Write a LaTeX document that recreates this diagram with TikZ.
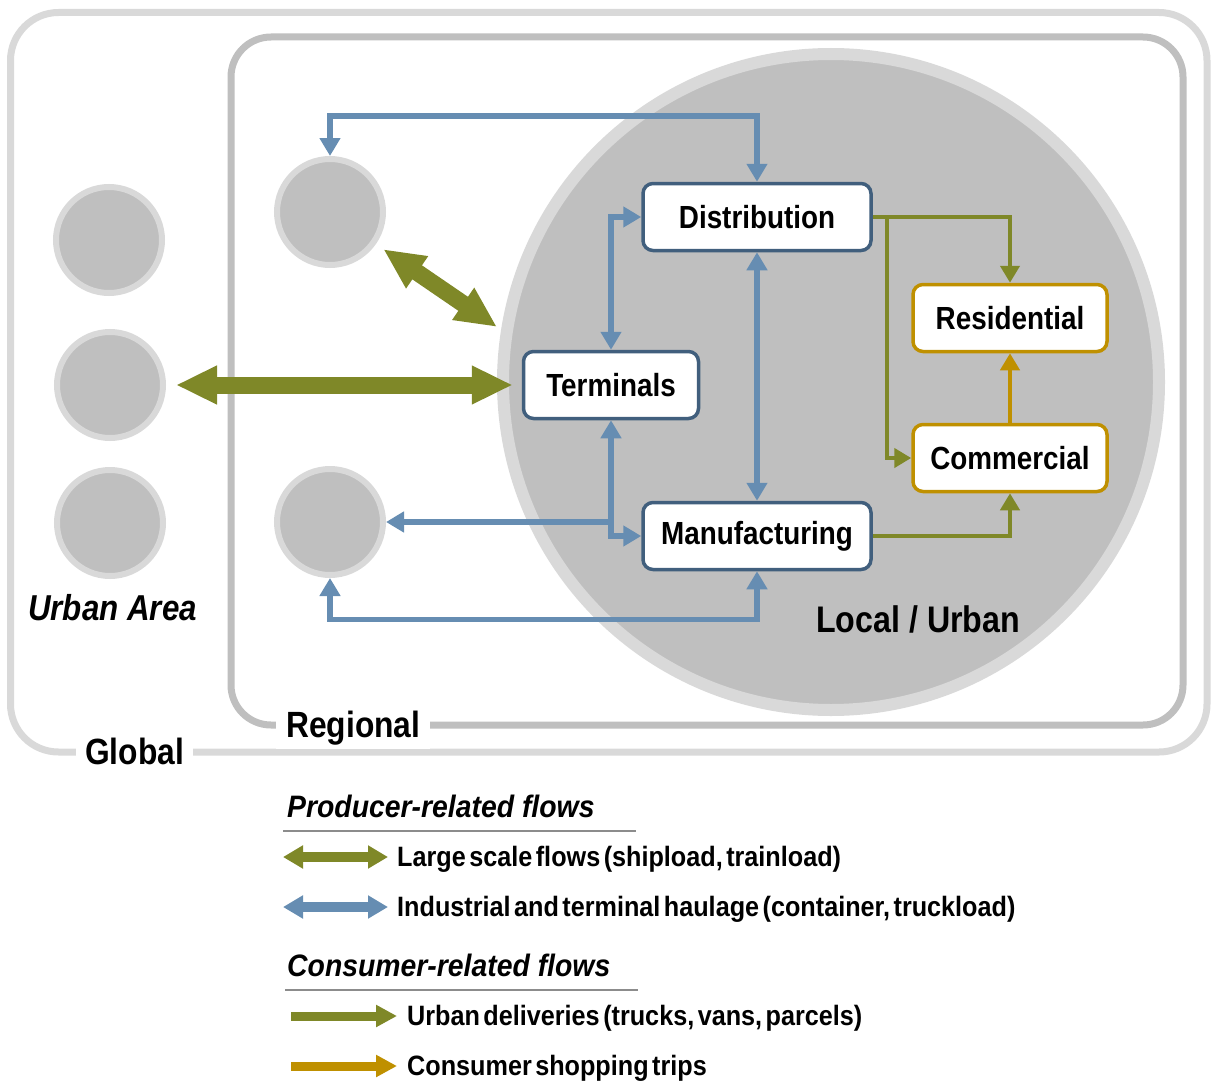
\documentclass[tikz,border=0pt]{standalone}
\usepackage{fontspec}
\setmainfont{Liberation Sans}[FakeStretch=0.87]
\newfontfamily\legfont{Liberation Sans}[FakeStretch=0.9]
\newfontfamily\headfont{Liberation Sans}[FakeStretch=0.915]
\newcommand{\legset}{\legfont\fontsize{28}{31}\selectfont\bfseries\spaceskip=3.5pt plus 1pt minus 1pt\relax}
\usetikzlibrary{arrows.meta}
\definecolor{olv}{RGB}{127,136,40}
\definecolor{blu}{RGB}{102,141,178}
\definecolor{nblue}{RGB}{65,95,125}
\definecolor{gld}{RGB}{191,144,0}
\definecolor{lgray}{RGB}{217,217,217}
\definecolor{mgray}{RGB}{191,191,191}
\definecolor{ulgray}{RGB}{140,140,140}
\tikzset{
  dot/.style={circle, draw=lgray, fill=mgray, line width=6pt, minimum size=106pt, inner sep=0pt},
  box/.style={draw=nblue, fill=white, line width=3.5pt, rounded corners=10pt, minimum width=228pt, minimum height=67pt, inner sep=0pt, font=\fontsize{32}{36}\selectfont\bfseries},
  gbox/.style={box, draw=gld, minimum width=194pt},
  bl/.style={draw=blu, line width=5.5pt, arrows={Triangle[length=18pt,width=20pt]-Triangle[length=18pt,width=20pt]}},
  blone/.style={draw=blu, line width=5.5pt, arrows={-Triangle[length=18pt,width=20pt]}},
  gr/.style={draw=olv, line width=4.5pt, arrows={-Triangle[length=17pt,width=19pt]}},
  go/.style={draw=gld, line width=4.5pt, arrows={-Triangle[length=17pt,width=19pt]}},
  thk/.style={draw=olv, line width=17pt, arrows={Triangle[length=41pt,width=36pt]-Triangle[length=41pt,width=36pt]}},
  scalelbl/.style={font=\fontsize{36.5}{40}\selectfont\bfseries, inner sep=0pt},
  leghead/.style={font=\headfont\fontsize{31}{34}\selectfont\bfseries\itshape, inner sep=0pt, anchor=base west},
  legtxt/.style={font=\legset, inner sep=0pt, anchor=base west},
  legdbl/.style={line width=10pt, arrows={Triangle[length=20pt,width=22pt]-Triangle[length=20pt,width=22pt]}},
  legone/.style={line width=9pt, arrows={-Triangle[length=21pt,width=21pt]}}
}
\begin{document}
\begin{tikzpicture}[x=1pt,y=-1pt]
\useasboundingbox (0,0) rectangle (1213,1081);
% scale frames
\draw[draw=lgray, line width=7pt, rounded corners=48pt] (10.5,12.5) rectangle (1207,752);
\draw[draw=mgray, line width=7pt, rounded corners=40pt] (231,37) rectangle (1183,725);
\node[scalelbl, fill=white, anchor=base west, inner xsep=9pt, inner ysep=4pt, xshift=-9pt] (glob) at (85,764) {Global};
\node[scalelbl, fill=white, anchor=base west, inner xsep=10pt, inner ysep=4pt, xshift=-10pt] (regl) at (286,737) {Regional};
% local circle
\node[circle, draw=lgray, fill=mgray, line width=12pt, minimum size=656pt, inner sep=0pt] (local) at (831,382) {};
\node[font=\fontsize{37}{40}\selectfont\bfseries, inner sep=0pt, anchor=base west] (loclbl) at (816,632) {Local / Urban};
% urban areas
\node[dot] (ua1) at (109,240) {};
\node[dot] (ua2) at (110,385) {};
\node[dot] (ua3) at (110,523) {};
\node[font=\fontsize{36}{40}\selectfont\bfseries\itshape, inner sep=0pt, anchor=base west] (ualbl) at (28,620) {Urban Area};
\node[dot] (rc1) at (330,212) {};
\node[dot] (rc2) at (330,522) {};
% boxes
\node[box] (dist) at (757,217) {Distribution};
\node[box, minimum width=175pt] (term) at (611,385) {Terminals};
\node[box] (manu) at (757,536) {Manufacturing};
\node[gbox] (resi) at (1010,318) {Residential};
\node[gbox] (comm) at (1010,458) {Commercial};
\coordinate (jn) at (611,522);
% blue flows
\draw[bl] (dist.north) -- ++(0,-66) -| (rc1.north);
\draw[bl] (term.north) |- (dist.west);
\draw[bl] (dist.south) -- (manu.north);
\draw[bl] (term.south) |- (manu.west);
\draw[blone] (jn) -- (rc2.east);
\draw[bl] (manu.south) -- ++(0,48) -| (rc2.south);
% green deliveries
\draw[gr] (dist.east) -| (resi.north);
\draw[gr] ([xshift=14pt]dist.east) |- (comm.west);
\draw[gr] (manu.east) -| (comm.south);
\draw[go] (comm.north) -- (resi.south);
% large flows
\draw[thk, shorten <=10pt, shorten >=9pt] (ua2.east) -- (term.west);
\draw[thk, shorten <=9pt, shorten >=5pt] (rc1.-35) -- (local.171);
% legend
\node[leghead] (h1) at (287,817) {Producer-related flows};
\draw[draw=ulgray, line width=2.5pt] (283,831) -- (636,831);
\coordinate (l1a) at (283,857); \coordinate (l1b) at (388,857);
\draw[legdbl, draw=olv] (l1a) -- (l1b);
\node[legtxt] (t1) at (397,866) {Large scale flows (shipload, trainload)};
\coordinate (l2a) at (283,907); \coordinate (l2b) at (388,907);
\draw[legdbl, draw=blu] (l2a) -- (l2b);
\node[legtxt] (t2) at (397,916) {Industrial and terminal haulage (container, truckload)};
\node[leghead] (h2) at (287,976) {Consumer-related flows};
\draw[draw=ulgray, line width=2.5pt] (285,990) -- (638,990);
\coordinate (l3a) at (291,1016); \coordinate (l3b) at (397,1016);
\draw[legone, draw=olv] (l3a) -- (l3b);
\node[legtxt] (t3) at (407,1025) {Urban deliveries (trucks, vans, parcels)};
\coordinate (l4a) at (291,1066); \coordinate (l4b) at (397,1066);
\draw[legone, draw=gld] (l4a) -- (l4b);
\node[legtxt] (t4) at (407,1075) {Consumer shopping trips};
\end{tikzpicture}
\end{document}
